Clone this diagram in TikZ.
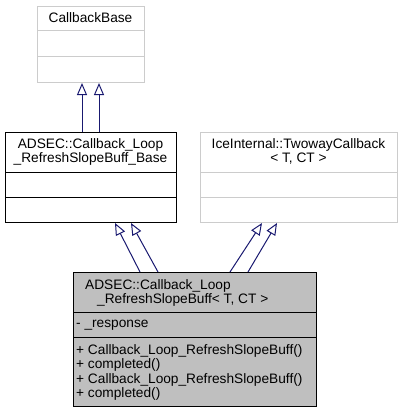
\documentclass[tikz,border=0pt]{standalone}
\usepackage{fontspec}
\setmainfont{Liberation Sans}
\usetikzlibrary{calc}
\usetikzlibrary{arrows.meta}
\definecolor{edgeblue}{RGB}{25,25,112}
\definecolor{fillgray}{RGB}{191,191,191}
\definecolor{linegray}{RGB}{204,204,204}
\tikzset{
  classbox/.style={draw, line width=1pt, inner sep=0, anchor=north west},
  classtext/.style={inner sep=0, anchor=base, font=\fontsize{13.7}{14.3}\selectfont},
  membertext/.style={classtext, anchor=base west},
  inherit/.style={draw=edgeblue, line width=1pt, -{Triangle[open, length=12pt, width=10pt]}},
}

\begin{document}
\begin{tikzpicture}[x=1pt, y=-1pt]
	\useasboundingbox (0,0) rectangle (403,412);
	% CallbackBase
	\node[classbox, draw=linegray, minimum width=107pt, minimum height=76pt] (cbbase) at (37,6) {};
	\node[classtext] (cbbasename) at (90.5,23) {CallbackBase};
	\draw[linegray, line width=1pt] ($(cbbase.north west)+(0,25)$) -- ($(cbbase.north east)+(0,25)$);
	\draw[linegray, line width=1pt] ($(cbbase.north west)+(0,51)$) -- ($(cbbase.north east)+(0,51)$);
	% ADSEC base
	\node[classbox, minimum width=171pt, minimum height=90pt] (loopbase) at (5,132) {};
	\node[classtext] (loopbasename1) at (90.5,148) {ADSEC::Callback\_Loop};
	\node[classtext] (loopbasename2) at (90.5,162.5) {\_RefreshSlopeBuff\_Base};
	\draw[line width=1pt] ($(loopbase.north west)+(0,40)$) -- ($(loopbase.north east)+(0,40)$);
	\draw[line width=1pt] ($(loopbase.north west)+(0,65)$) -- ($(loopbase.north east)+(0,65)$);
	% IceInternal
	\node[classbox, draw=linegray, minimum width=197pt, minimum height=90pt] (twoway) at (200,132) {};
	\node[classtext] (twowayname1) at (298.5,148) {IceInternal::TwowayCallback};
	\node[classtext] (twowayname2) at (298.5,162.5) {< T, CT >};
	\draw[linegray, line width=1pt] ($(twoway.north west)+(0,40)$) -- ($(twoway.north east)+(0,40)$);
	\draw[linegray, line width=1pt] ($(twoway.north west)+(0,65)$) -- ($(twoway.north east)+(0,65)$);
	% derived class
	\node[classbox, fill=fillgray, minimum width=243pt, minimum height=134pt] (loop) at (73,272) {};
	\node[membertext] (loopname1) at (85,289) {ADSEC::Callback\_Loop};
	\node[membertext] (loopname2) at (97,303) {\_RefreshSlopeBuff< T, CT >};
	\draw[line width=1pt] ($(loop.north west)+(0,40)$) -- ($(loop.north east)+(0,40)$);
	\draw[line width=1pt] ($(loop.north west)+(0,65)$) -- ($(loop.north east)+(0,65)$);
	\node[membertext] (attr) at (76,327) {- \_response};
	\node[membertext] (meth1) at (76,354) {+ Callback\_Loop\_RefreshSlopeBuff()};
	\node[membertext] (meth2) at (76,368.5) {+ completed()};
	\node[membertext] (meth3) at (76,383) {+ Callback\_Loop\_RefreshSlopeBuff()};
	\node[membertext] (meth4) at (76,397.5) {+ completed()};
	% inheritance
	\draw[inherit] ($(loopbase.north west)+(77,0)$) -- ($(cbbase.south west)+(45,0)$);
	\draw[inherit] ($(loopbase.north west)+(94,0)$) -- ($(cbbase.south west)+(62,0)$);
	\draw[inherit] ($(loop.north west)+(67,0)$) -- ($(loopbase.south west)+(110,0)$);
	\draw[inherit] ($(loop.north west)+(85,0)$) -- ($(loopbase.south west)+(126,0)$);
	\draw[inherit] ($(loop.north west)+(157,0)$) -- ($(twoway.south west)+(62,0)$);
	\draw[inherit] ($(loop.north west)+(175,0)$) -- ($(twoway.south west)+(77,0)$);
\end{tikzpicture}
\end{document}
